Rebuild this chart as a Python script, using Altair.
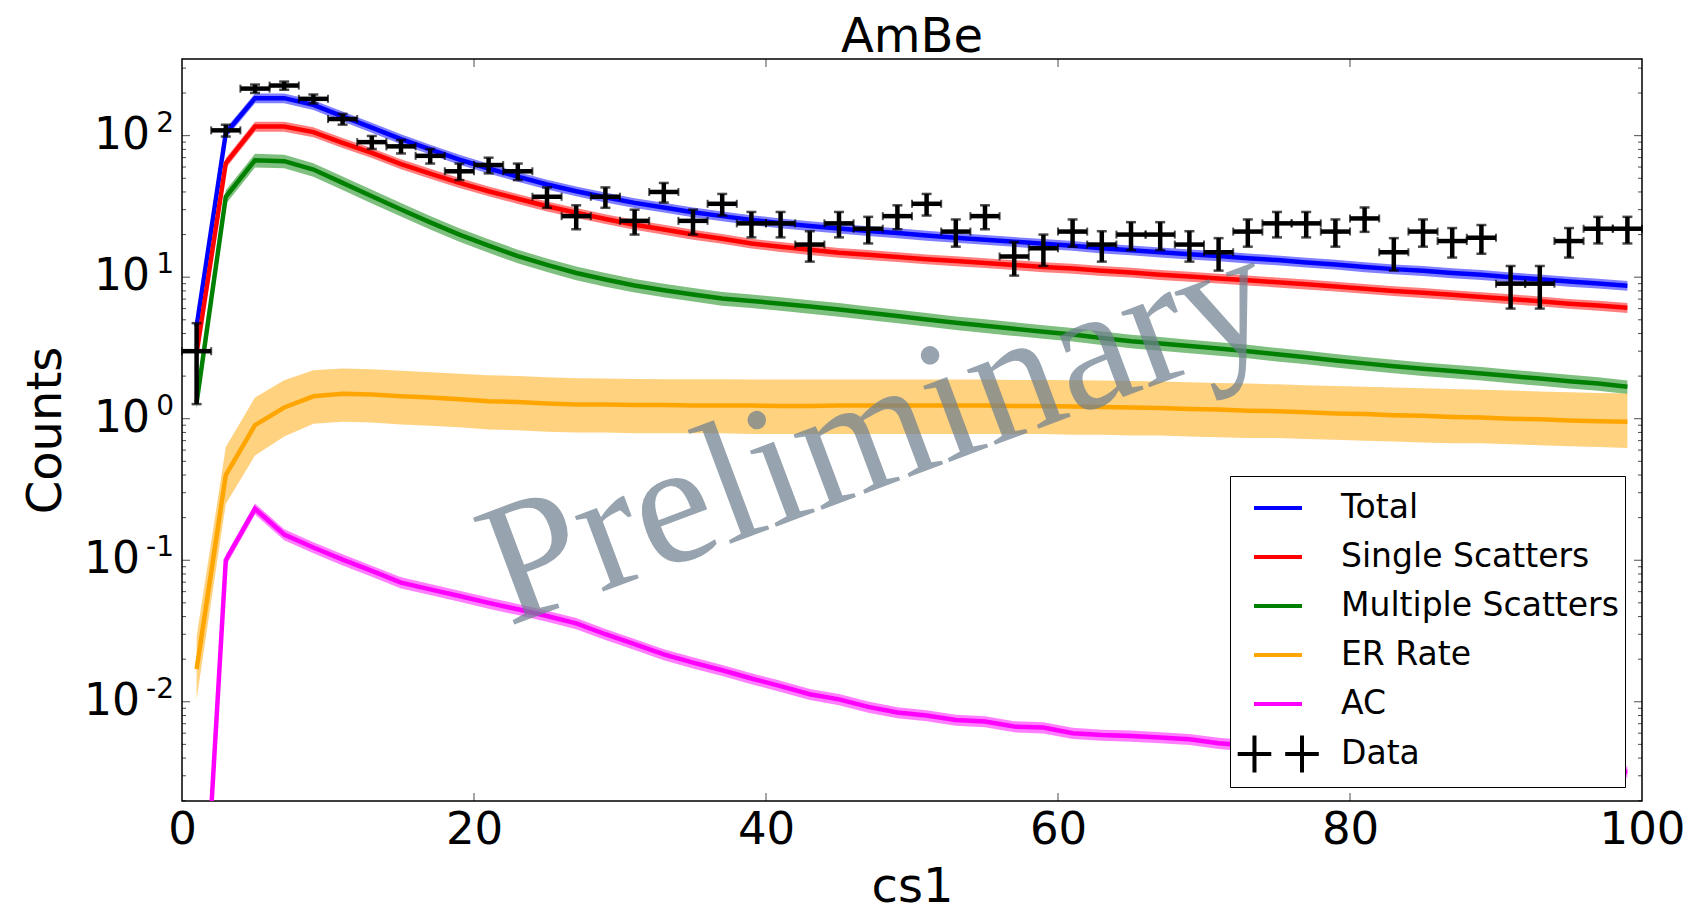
import altair as alt
import pandas as pd

# ---------------- data ----------------
X_BINS = list(range(1, 100, 2))  # bin centres of cs1 (bin width 2)

TOTAL = [4.5, 104, 184, 184, 165, 137, 114, 94.6, 79.9, 67.8,
         58.6, 51.3, 45.2, 40.5, 36.7, 33.5, 31.1, 28.8, 27.0, 25.4,
         24.1, 23.0, 22.1, 21.2, 20.5, 19.7, 19.0, 18.4, 17.8, 17.2,
         16.7, 16.0, 15.5, 15.0, 14.5, 14.1, 13.6, 13.2, 12.7, 12.3,
         11.8, 11.4, 11.1, 10.7, 10.4, 10.0, 9.67, 9.31, 9.03, 8.71]

SINGLE = [2.9, 64, 116, 116, 106, 89, 75.5, 63, 54, 46.4,
          40.5, 35.8, 31.7, 28.5, 25.8, 23.5, 21.7, 20.0, 18.7, 17.3,
          16.4, 15.6, 14.9, 14.4, 13.9, 13.4, 13.0, 12.6, 12.2, 11.8,
          11.5, 11.1, 10.8, 10.4, 10.1, 9.8, 9.5, 9.2, 8.9, 8.6,
          8.3, 8.0, 7.76, 7.5, 7.25, 7.0, 6.76, 6.5, 6.3, 6.08]

MULTIPLE = [1.3, 37, 67, 66, 57.6, 46.4, 37.3, 30.1, 24.4, 20.0,
            16.7, 14.1, 12.2, 10.7, 9.63, 8.74, 8.09, 7.55, 7.07, 6.8,
            6.5, 6.2, 5.91, 5.6, 5.31, 5.03, 4.76, 4.54, 4.32, 4.12,
            3.94, 3.72, 3.53, 3.4, 3.26, 3.13, 3.0, 2.85, 2.72, 2.58,
            2.46, 2.35, 2.25, 2.17, 2.09, 2.0, 1.92, 1.84, 1.77, 1.68]

ER = [0.017, 0.40, 0.90, 1.20, 1.44, 1.50, 1.48, 1.44, 1.41, 1.37,
      1.33, 1.31, 1.28, 1.26, 1.26, 1.25, 1.25, 1.24, 1.24, 1.24,
      1.23, 1.23, 1.24, 1.24, 1.24, 1.24, 1.24, 1.24, 1.23, 1.23,
      1.22, 1.21, 1.20, 1.19, 1.17, 1.16, 1.14, 1.13, 1.11, 1.09,
      1.08, 1.06, 1.05, 1.03, 1.02, 1.00, 0.99, 0.97, 0.96, 0.95]

ER_LO = [0.0104, 0.25, 0.55, 0.75, 0.92, 0.95, 0.94, 0.91, 0.89, 0.87,
         0.84, 0.83, 0.81, 0.80, 0.80, 0.79, 0.79, 0.79, 0.79, 0.78,
         0.78, 0.78, 0.78, 0.78, 0.78, 0.78, 0.78, 0.78, 0.78, 0.78,
         0.77, 0.77, 0.76, 0.76, 0.75, 0.74, 0.73, 0.73, 0.72, 0.71,
         0.70, 0.69, 0.68, 0.67, 0.67, 0.66, 0.65, 0.64, 0.63, 0.62]

ER_HI = [0.029, 0.63, 1.41, 1.87, 2.20, 2.26, 2.24, 2.18, 2.13, 2.08,
         2.03, 2.00, 1.96, 1.93, 1.92, 1.91, 1.90, 1.90, 1.90, 1.89,
         1.89, 1.89, 1.89, 1.89, 1.89, 1.89, 1.89, 1.89, 1.88, 1.88,
         1.87, 1.86, 1.85, 1.83, 1.81, 1.79, 1.77, 1.75, 1.72, 1.70,
         1.68, 1.66, 1.64, 1.62, 1.60, 1.58, 1.56, 1.54, 1.52, 1.51]

AC = [3e-5, 0.100, 0.231, 0.152, 0.123, 0.101, 0.084, 0.0695, 0.0623, 0.0559,
      0.050, 0.045, 0.0404, 0.0358, 0.030, 0.0255, 0.0216, 0.0189, 0.0167, 0.0146,
      0.0129, 0.0113, 0.0104, 0.0092, 0.0084, 0.0080, 0.00744, 0.00725, 0.00668, 0.00657,
      0.0060, 0.00583, 0.00574, 0.00559, 0.00543, 0.0051, 0.0049, 0.0047, 0.0045, 0.0044,
      0.0042, 0.0041, 0.0039, 0.0038, 0.0037, 0.0036, 0.0035, 0.0034, 0.0033, 0.0032]

# relative half-width of the model uncertainty bands
BAND_REL = {"Total": 0.08, "Single Scatters": 0.08, "Multiple Scatters": 0.11, "AC": 0.09}

DATA_COUNTS = [3, 109, 215, 226, 182, 131, 90, 84, 72, 56,
               62, 56, 37, 27, 37, 25, 40, 25, 33, 24,
               24, 17, 24, 22, 27, 33, 21, 27, 14, 16,
               21, 17, 20, 20, 17, 15, 21, 24, 24, 21,
               26, 15, 21, 18, 19, 9, 9, 18, 22, 22]
BIN_HALF = 1

SERIES = ["Total", "Single Scatters", "Multiple Scatters", "ER Rate", "AC", "Data"]
COLORS = ["#0000ff", "#ff0000", "#008000", "#ffa500", "#ff00ff", "#000000"]
DATA_SYMBOL = "M-1.68,0H-0.28M-0.98,-0.77V0.77M0.3,0H1.7M1,-0.77V0.77"
SHAPES = ["stroke", "stroke", "stroke", "stroke", "stroke", DATA_SYMBOL]

TITLE = "AmBe"
WATERMARK = "Preliminary"
X_TICKS = [0, 20, 40, 60, 80, 100]
X_INNER_TICKS = [20, 40, 60, 80]
Y_MAJOR = [0.01, 0.1, 1, 10, 100]
Y_EXP = ["-2", "-1", "0", "1", "2"]
Y_MINOR = [0.002, 0.003, 0.004, 0.005, 0.006, 0.007, 0.008, 0.009,
           0.02, 0.03, 0.04, 0.05, 0.06, 0.07, 0.08, 0.09,
           0.2, 0.3, 0.4, 0.5, 0.6, 0.7, 0.8, 0.9,
           2, 3, 4, 5, 6, 7, 8, 9,
           20, 30, 40, 50, 60, 70, 80, 90, 200, 300]

Y_MIN, Y_MAX = 0.00199, 348
W, H = 1460, 742

# ---------------- tables ----------------
color_of = dict(zip(SERIES, COLORS))
curves = {"Total": TOTAL, "Single Scatters": SINGLE, "Multiple Scatters": MULTIPLE,
          "ER Rate": ER, "AC": AC}
line_rows, band_rows = [], []
for name, vals in curves.items():
    for i, (x, v) in enumerate(zip(X_BINS, vals)):
        line_rows.append({"x": x, "value": v, "series": name})
        if name == "ER Rate":
            lo, hi = ER_LO[i], ER_HI[i]
        else:
            lo, hi = v * (1 - BAND_REL[name]), v * (1 + BAND_REL[name])
        band_rows.append({"x": x, "lo": lo, "hi": hi, "series": name, "col": color_of[name]})
lines_df = pd.DataFrame(line_rows)
bands_df = pd.DataFrame(band_rows)

data_df = pd.DataFrame({"x": X_BINS, "n": DATA_COUNTS})
data_df["err"] = data_df["n"] ** 0.5
data_df["lo"] = data_df["n"] - data_df["err"]
data_df["hi"] = data_df["n"] + data_df["err"]
data_df["xl"] = data_df["x"] - BIN_HALF
data_df["xr"] = data_df["x"] + BIN_HALF
ycaps_df = pd.concat([data_df[["x"]].assign(y=data_df["lo"]), data_df[["x"]].assign(y=data_df["hi"])])
xcaps_df = pd.concat([data_df[["n"]].assign(x=data_df["xl"]), data_df[["n"]].assign(x=data_df["xr"])])

legend_df = pd.DataFrame({"series": SERIES, "x": [50] * len(SERIES), "y": [1] * len(SERIES)})
ylab_df = pd.DataFrame({"v": Y_MAJOR, "e": Y_EXP, "neg": [e.startswith("-") for e in Y_EXP]})

# ---------------- scales / axes ----------------
xs = alt.Scale(domain=[0, 100], nice=False, zero=False)
ys = alt.Scale(type="log", domain=[Y_MIN, Y_MAX], nice=False)
cs = alt.Scale(domain=SERIES, range=COLORS)

x_axis = alt.Axis(values=X_TICKS, title="cs1", ticks=False, domain=False, grid=False,
                  labelFontSize=45, labelPadding=6, labelFlush=False, labelOverlap=False,
                  labelBound=False, titleFontSize=48, titleFontWeight="normal",
                  titleBaseline="alphabetic", titleY=100)
y_axis = alt.Axis(values=Y_MAJOR, labels=False, title="Counts", ticks=False,
                  domain=False, grid=False,
                  titleFontSize=48, titleFontWeight="normal",
                  titleBaseline="alphabetic", titleX=-122)

legend = alt.Legend(
    title=None, orient="none", legendX=1048, legendY=417,
    strokeColor="black", fillColor="white", padding=6, cornerRadius=0,
    symbolSize=2304, symbolStrokeWidth=4, symbolOffset=16, symbolOpacity=1,
    symbolFillColor="transparent",
    labelOffset=37, labelFont="DejaVu Sans", labelFontSize=33, labelColor="black",
    labelLimit=600, rowPadding=6,
)

# legend carrier: no visible marks, it only supplies the colour + symbol legend
legend_layer = alt.Chart(legend_df).transform_filter("false").mark_point(
    filled=False, strokeWidth=4, opacity=1).encode(
    x=alt.X("x:Q", scale=xs, axis=x_axis),
    y=alt.Y("y:Q", scale=ys, axis=y_axis),
    color=alt.Color("series:N", scale=cs, legend=legend),
    shape=alt.Shape("series:N", scale=alt.Scale(domain=SERIES, range=SHAPES), legend=legend),
    opacity=alt.value(1),
)

bands = alt.Chart(bands_df).mark_area(opacity=0.5, clip=True).encode(
    x="x:Q",
    y="lo:Q",
    y2="hi:Q",
    color=alt.Color("col:N", scale=None),
    detail="series:N",
)

lines = alt.Chart(lines_df).mark_line(strokeWidth=4.5, clip=True).encode(
    x="x:Q", y="value:Q",
    color=alt.Color("series:N", scale=cs),
    opacity=alt.value(1),
)

watermark = alt.Chart(pd.DataFrame({"t": [WATERMARK]})).mark_text(
    font="Liberation Serif", fontSize=175, angle=339.5, color="#708090", opacity=0.72,
    align="center", baseline="middle",
).encode(x=alt.datum(47.6), y=alt.datum(0.80), text="t:N")

title_mark = alt.Chart(pd.DataFrame({"t": [TITLE]})).mark_text(
    font="DejaVu Sans", fontSize=48, color="black", align="center",
    baseline="alphabetic", dy=-7,
).encode(x=alt.datum(50), y=alt.datum(Y_MAX), text="t:N")

hbar = alt.Chart(data_df).mark_rule(color="black", strokeWidth=4.5).encode(
    x="xl:Q", x2="xr:Q", y="n:Q")
vbar = alt.Chart(data_df).mark_rule(color="black", strokeWidth=4.5).encode(
    x="x:Q", y="lo:Q", y2="hi:Q")
ycaps = alt.Chart(ycaps_df).mark_tick(orient="horizontal", size=10, thickness=2.5, color="black").encode(
    x="x:Q", y="y:Q")
xcaps = alt.Chart(xcaps_df).mark_tick(orient="vertical", size=8, thickness=2, color="black").encode(
    x="x:Q", y="n:Q")

def yticks(vals, size, at, off):
    return alt.Chart(pd.DataFrame({"v": vals})).mark_tick(
        orient="horizontal", size=size, thickness=1, color="black", xOffset=off
    ).encode(x=alt.datum(at), y="v:Q")

def xticks(vals, size, at, off):
    return alt.Chart(pd.DataFrame({"v": vals})).mark_tick(
        orient="vertical", size=size, thickness=1, color="black", yOffset=off
    ).encode(y=alt.datum(at), x="v:Q")

ticks = [
    yticks(Y_MAJOR, 8, 0, 4), yticks(Y_MAJOR, 8, 100, -4),
    yticks(Y_MINOR, 4, 0, 2), yticks(Y_MINOR, 4, 100, -2),
    xticks(X_INNER_TICKS, 8, Y_MIN, -4), xticks(X_INNER_TICKS, 8, Y_MAX, 4),
]

# y tick labels written as 10 with a raised exponent (like the original mathtext)
ylab_base = alt.Chart(ylab_df)
ten_pos = ylab_base.transform_filter("!datum.neg").mark_text(
    text="10", align="right", baseline="middle", fontSize=44, dx=-32, color="black"
).encode(x=alt.datum(0), y="v:Q")
ten_neg = ylab_base.transform_filter("datum.neg").mark_text(
    text="10", align="right", baseline="middle", fontSize=44, dx=-42, color="black"
).encode(x=alt.datum(0), y="v:Q")
exps = ylab_base.mark_text(
    align="right", baseline="middle", fontSize=28, dx=-8, dy=-12, color="black"
).encode(x=alt.datum(0), y="v:Q", text="e:N")

chart = alt.layer(legend_layer, bands, lines, watermark, hbar, vbar, ycaps, xcaps,
                  ten_pos, ten_neg, exps, title_mark, *ticks).properties(
    width=W, height=H,
    autosize=alt.AutoSizeParams(type="none"),
    padding={"left": 182, "top": 59, "right": 51, "bottom": 109},
).configure(font="DejaVu Sans", background="white").configure_view(
    stroke="black", strokeWidth=1.5
).configure_axis(labelFont="DejaVu Sans", titleFont="DejaVu Sans",
                 labelColor="black", titleColor="black"
).configure_legend(symbolOpacity=1)

chart.save("out.html", embed_options={"renderer": "svg", "actions": False})
